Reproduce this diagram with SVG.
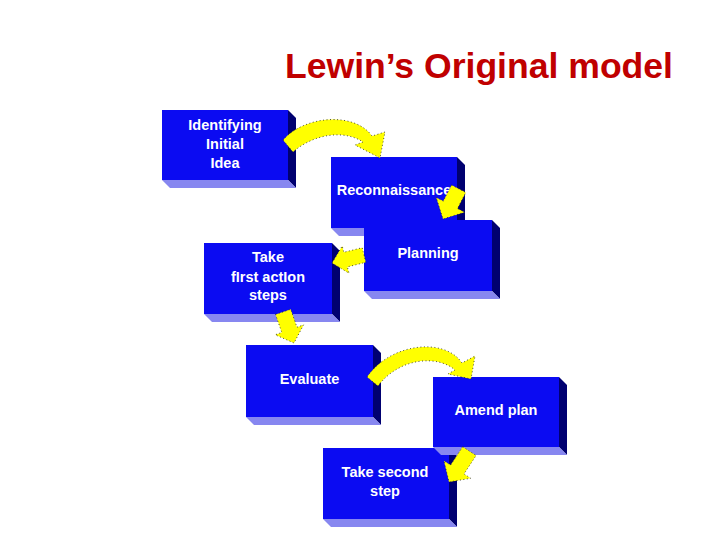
<svg xmlns="http://www.w3.org/2000/svg" width="720" height="540" viewBox="0 0 720 540">
<style>
.front{fill:#0b0bf2}
.side{fill:#000070}
.bottom{fill:#8787f0}
.lbl{font-family:"Liberation Sans",Arial,sans-serif;font-weight:bold;font-size:14.5px;fill:#ffffff;text-anchor:middle}
.title{font-family:"Liberation Sans",Arial,sans-serif;font-weight:bold;font-size:35.5px;fill:#c00000}
.arr{fill:#ffff00;stroke:#222;stroke-width:0.8;stroke-dasharray:1 2.5}
</style>
<rect width="720" height="540" fill="#ffffff"/>
<text class="title" x="285" y="78" textLength="388" lengthAdjust="spacingAndGlyphs">Lewin’s Original model</text>

<g id="node-identifying">
<polygon class="side" points="288,110 296,118 296,188 288,180"/>
<polygon class="bottom" points="162,180 288,180 296,188 170,188"/>
<rect class="front" x="162" y="110" width="126" height="70"/>
<text class="lbl" x="225" y="130">Identifying</text>
<text class="lbl" x="225" y="149">Initial</text>
<text class="lbl" x="225" y="168">Idea</text>
</g>

<g id="node-reconnaissance">
<polygon class="side" points="457,157 465,165 465,236 457,228"/>
<polygon class="bottom" points="331,228 457,228 465,236 339,236"/>
<rect class="front" x="331" y="157" width="126" height="71"/>
<text class="lbl" x="394" y="195">Reconnaissance</text>
</g>

<g id="node-planning">
<polygon class="side" points="492,220 500,228 500,299 492,291"/>
<polygon class="bottom" points="364,291 492,291 500,299 372,299"/>
<rect class="front" x="364" y="220" width="128" height="71"/>
<text class="lbl" x="428" y="258">Planning</text>
</g>

<g id="node-take-first">
<polygon class="side" points="332,243 340,251 340,322 332,314"/>
<polygon class="bottom" points="204,314 332,314 340,322 212,322"/>
<rect class="front" x="204" y="243" width="128" height="71"/>
<text class="lbl" x="268" y="262">Take</text>
<text class="lbl" x="268" y="281.5">fIrst actIon</text>
<text class="lbl" x="268" y="300">steps</text>
</g>

<g id="node-evaluate">
<polygon class="side" points="373,345 381,353 381,425 373,417"/>
<polygon class="bottom" points="246,417 373,417 381,425 254,425"/>
<rect class="front" x="246" y="345" width="127" height="72"/>
<text class="lbl" x="309.5" y="384">Evaluate</text>
</g>

<g id="node-take-second">
<polygon class="side" points="449,448 457,456 457,527 449,519"/>
<polygon class="bottom" points="323,519 449,519 457,527 331,527"/>
<rect class="front" x="323" y="448" width="126" height="71"/>
<text class="lbl" x="385" y="477">Take second</text>
<text class="lbl" x="385" y="496">step</text>
</g>

<g id="node-amend">
<polygon class="side" points="559,377 567,385 567,455 559,447"/>
<polygon class="bottom" points="433,447 559,447 567,455 441,455"/>
<rect class="front" x="433" y="377" width="126" height="70"/>
<text class="lbl" x="496" y="415">Amend plan</text>
</g>

<g id="connectors">
<path class="arr" d="M283,140 C305,115 355,112 372,136 L385,132 L380,158 L355,145 L363,142 C345,130 315,133 293,152 Z"/>
<polygon class="arr" points="451.6,185.1 465.8,192.5 457.5,208.5 464.6,212.2 443,219 436.2,197.4 443.3,201.1"/>
<polygon class="arr" points="332,263 342.2,246 343.8,252.3 362.2,247.7 365.8,262.3 347.4,266.9 349,273.2"/>
<polygon class="arr" points="275.5,314.5 290.7,309.3 297,327.2 303.6,324.8 294,343 275.2,334.8 281.8,332.4"/>
<path class="arr" d="M367,377 C390,343 445,337 462,363 L475,356 L471,379 L448,374 L455,370 C438,355 400,357 378,386 Z"/>
<polygon class="arr" points="462.7,446.7 476.1,455.5 464,473.9 470.7,478.3 449,482 443.9,460.7 450.6,465.1"/>
</g>
</svg>
